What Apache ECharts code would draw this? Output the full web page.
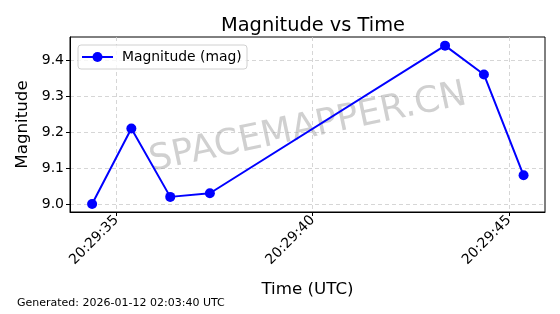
<!DOCTYPE html>
<html><head><meta charset="utf-8">
<script src="https://cdn.jsdelivr.net/npm/echarts@6/dist/echarts.min.js"></script>
<style>html,body{margin:0;padding:0;background:#fff}#c{width:560px;height:314px}</style>
</head><body><div id="c"></div>
<script>
// data
const times = ["20:29:34.38","20:29:35.38","20:29:36.37","20:29:37.38","20:29:43.37","20:29:44.36","20:29:45.37"];
const magnitudes = [9.00, 9.21, 9.02, 9.03, 9.44, 9.36, 9.08];
const xTickLabels = ["20:29:35","20:29:40","20:29:45"];
const yTickValues = [9.0, 9.1, 9.2, 9.3, 9.4];
const seriesName = "Magnitude (mag)";

function toSec(s){const p=s.split(':');return (+p[0])*3600+(+p[1])*60+(+p[2]);}
const base = toSec("20:29:00");
const xs = times.map(t=>toSec(t)-base);
const xTicks = xTickLabels.map(t=>toSec(t)-base);
function fmt(v){const t=Math.round(v+base);const h=Math.floor(t/3600),m=Math.floor(t%3600/60),s=t%60;return [h,m,s].map(n=>String(n).padStart(2,'0')).join(':');}

const F = 'DejaVu Sans';
const chart = echarts.init(document.getElementById('c'), null, {renderer:'canvas'});
chart.setOption({
  animation:false,
  textStyle:{fontFamily:F},
  title:{text:'Magnitude vs Time',left:308,top:11,textAlign:'center',textStyle:{fontFamily:F,fontSize:19.4,fontWeight:'normal',color:'#000'}},
  grid:{left:70,top:37,width:475,height:175,show:true,borderColor:'#000',borderWidth:1,backgroundColor:'transparent'},
  legend:{show:false},
  xAxis:{type:'value',min:33.817,max:45.916,
    name:'Time (UTC)',nameLocation:'middle',nameGap:69,nameTextStyle:{fontFamily:F,fontSize:16.7,color:'#000'},
    axisLine:{show:true,lineStyle:{color:'#000'}},
    axisTick:{show:true,customValues:xTicks,length:4,lineStyle:{color:'#000'}},
    axisLabel:{customValues:xTicks,formatter:fmt,rotate:45,fontFamily:F,fontSize:14,color:'#000',margin:6},
    splitLine:{show:true,lineStyle:{color:'#cccccc',type:[4,3],width:0.8}}},
  yAxis:{type:'value',min:8.978,max:9.464,
    name:'Magnitude',nameLocation:'middle',nameGap:37,nameTextStyle:{fontFamily:F,fontSize:16.7,color:'#000'},
    axisLine:{show:true,lineStyle:{color:'#000'}},
    axisTick:{show:true,customValues:yTickValues,length:4,lineStyle:{color:'#000'}},
    axisLabel:{customValues:yTickValues,formatter:v=>v.toFixed(1),fontFamily:F,fontSize:14,color:'#000',margin:6},
    splitLine:{show:true,lineStyle:{color:'#cccccc',type:[4,3],width:0.8}}},
  graphic:[
    {type:'text',left:17,top:298,style:{text:'Generated: 2026-01-12 02:03:40 UTC',font:'11px "DejaVu Sans"',fill:'#000'}},
    {type:'text',x:308,y:128,rotation:Math.PI*12/180,z:1,style:{text:'SPACEMAPPER.CN',font:'36px "DejaVu Sans"',fill:'rgba(150,150,150,0.45)',align:'center',verticalAlign:'middle'}},
    {type:'rect',shape:{x:78,y:45,width:169,height:24,r:3},z:10,style:{fill:'rgba(255,255,255,0.8)',stroke:'#d0d0d0',lineWidth:1}},
    {type:'line',shape:{x1:82,y1:57,x2:113,y2:57},z:11,style:{stroke:'#0000ff',lineWidth:2}},
    {type:'circle',shape:{cx:97.5,cy:57,r:5},z:11,style:{fill:'#0000ff'}},
    {type:'text',x:122,y:57,z:11,style:{text:seriesName,font:'13.9px "DejaVu Sans"',fill:'#000',verticalAlign:'middle'}}
  ],
  series:[{name:seriesName,type:'line',data:xs.map((x,i)=>[x,magnitudes[i]]),
    symbol:'circle',symbolSize:10,itemStyle:{color:'#0000ff'},lineStyle:{color:'#0000ff',width:2},z:5}]
});
</script></body></html>
